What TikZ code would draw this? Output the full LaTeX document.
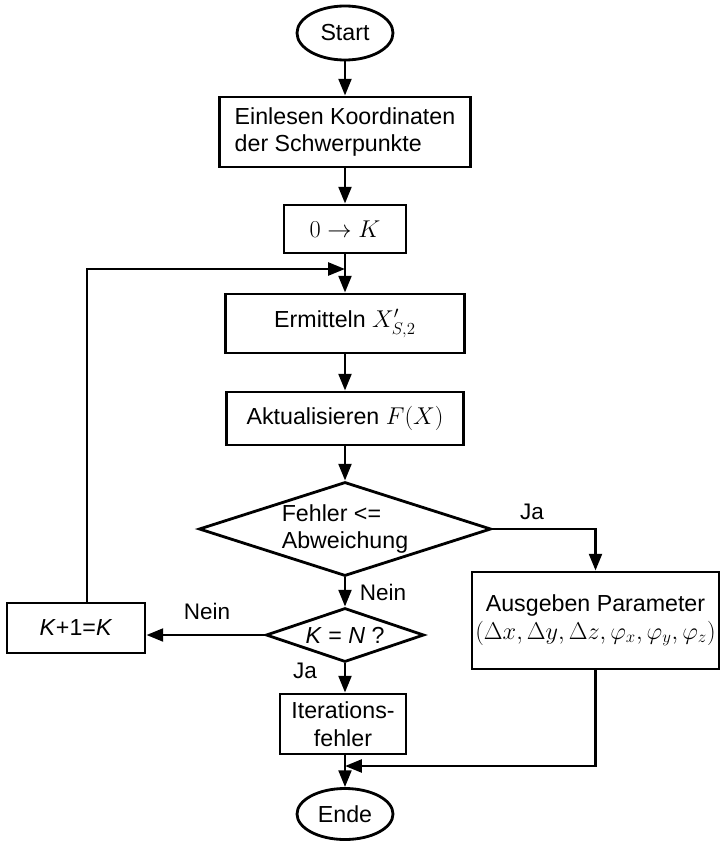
\documentclass[tikz,border=0pt]{standalone}
\usepackage{fontspec}
\setmainfont{Liberation Sans}
\usepackage{amsmath}
\usepackage{tikz}
\usetikzlibrary{shapes.geometric, arrows.meta, positioning}

\begin{document}
\begin{tikzpicture}[
        x=0.025cm, y=-0.025cm,
        every node/.style={font=\fontsize{16.5}{19.5}\selectfont, inner sep=0pt},
        box/.style={draw, line width=2pt, rectangle, align=center},
        term/.style={draw, line width=2pt, ellipse, minimum width=2.4cm},
        dec/.style={draw, line width=2pt, diamond, align=left, aspect=3},
        rel/.style={-{Triangle[length=4.2mm, width=3.2mm]}, line width=2pt},
        lbl/.style={font=\fontsize{16}{19}\selectfont}
    ]
        \useasboundingbox (0,0) rectangle (720,841);
        % Hauptablauf
        \node[term, minimum height=1.35cm] (start) at (345,33) {Start};
        \node[box, align=left, minimum width=6.275cm, minimum height=1.75cm] (einlesen) at (345,132) {Einlesen Koordinaten\\der Schwerpunkte};
        \node[box, minimum width=3.05cm, minimum height=1.2cm] (init) at (345,229) {$0 \rightarrow K$};
        \node[box, minimum width=5.975cm, minimum height=1.475cm] (ermitteln) at (345,323.5) {Ermitteln $X'_{S,2}$};
        \node[box, minimum width=5.925cm, minimum height=1.325cm] (aktual) at (345,418.5) {Aktualisieren $F(X)$};
        \node[dec, minimum width=7.3cm, minimum height=2.35cm] (fehler) at (345,529) {Fehler <=\\Abweichung};
        \node[dec, minimum width=3.95cm, minimum height=1.35cm] (kn) at (345,635) {\textit{K} = \textit{N} ?};
        \node[box, minimum width=3.15cm, minimum height=1.5cm] (iter) at (343,724) {Iterations-\\fehler};
        \node[term, minimum height=1.275cm] (ende) at (345,814) {Ende};
        % Seitenzweige
        \node[box, minimum width=6.175cm, minimum height=2.425cm] (ausgabe) at (595.5,620.5) {Ausgeben Parameter\\$(\Delta x, \Delta y, \Delta z, \varphi_x, \varphi_y, \varphi_z)$};
        \node[box, minimum width=3.45cm, minimum height=1.25cm] (kplus) at (76,628) {\textit{K}+1=\textit{K}};
        \coordinate (back) at (87,269);
        \coordinate (join) at (345,766);
        % Beschriftungen
        \node[lbl] (ja1) at (532,512) {Ja};
        \node[lbl] (nein1) at (383,592) {Nein};
        \node[lbl] (nein2) at (207,611) {Nein};
        \node[lbl] (ja2) at (305,671) {Ja};
        % Verbindungen
        \draw[rel] (start)--(einlesen); \draw[rel] (einlesen)--(init); \draw[rel] (init)--(ermitteln);
        \draw[rel] (ermitteln)--(aktual); \draw[rel] (aktual)--(fehler); \draw[rel] (fehler)--(kn);
        \draw[rel] (kn.south)--(kn.south |- iter.north); \draw[rel] (iter.south -| ende.north)--(ende);
        \draw[rel] (fehler.east) -| (ausgabe.north);
        \draw[rel] (kn.west)--(kn.west -| kplus.east);
        \draw[rel] (kplus.north -| back)--(back)--(back -| init.south);
        \draw[rel] (ausgabe.south) |- (join);
    \end{tikzpicture}
\end{document}
